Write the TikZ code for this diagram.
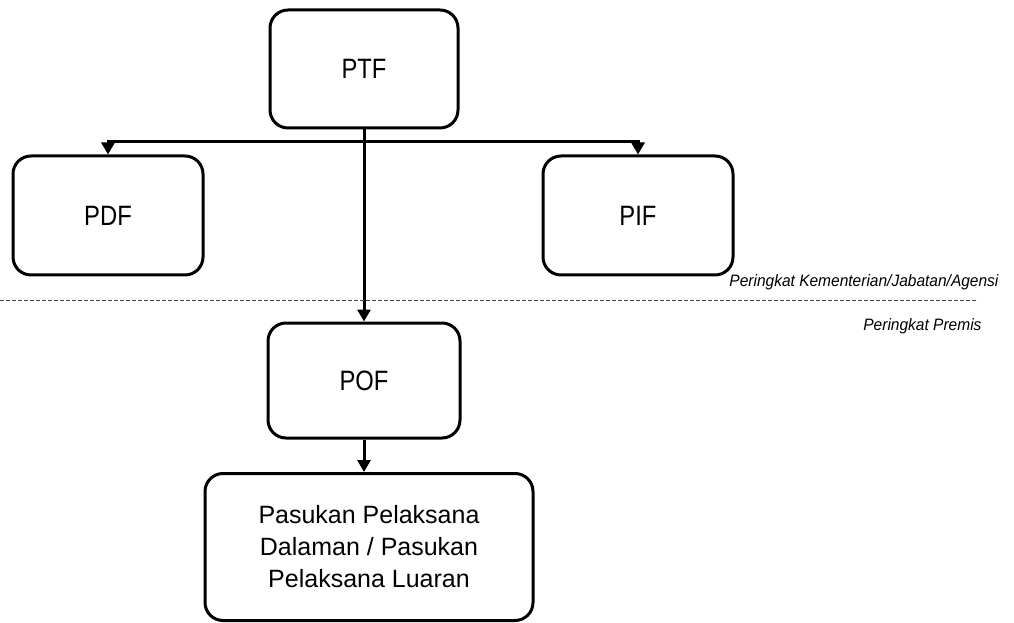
\documentclass[tikz,border=0pt]{standalone}
\usepackage{fontspec}
\setmainfont{Liberation Sans}
\newfontfamily\narrowsf[FakeStretch=0.85]{Liberation Sans}
\newfontfamily\levelsf[FakeStretch=0.94]{Liberation Sans}
\usetikzlibrary{arrows.meta,positioning}

\tikzset{
  unit/.style={draw, line width=3pt, rounded corners=18pt, align=center,
    font=\fontsize{25}{32}\selectfont},
  short/.style={font=\narrowsf\fontsize{28}{32}\selectfont},
  link/.style={line width=3pt, -{Triangle[width=13pt,length=12pt]}},
  level/.style={font=\levelsf\fontsize{16.5}{18}\itshape\selectfont, anchor=base east}
}

\begin{document}
\begin{tikzpicture}[x=1pt,y=1pt]
\useasboundingbox (0,0) rectangle (1014,622);

% the five bodies
\node[unit, short, minimum width=188pt, minimum height=118pt] (ptf) at (364,553) {PTF};
\node[unit, short, minimum width=190pt, minimum height=119pt] (pdf) at (108,406.5) {PDF};
\node[unit, short, minimum width=190pt, minimum height=119pt] (pif) at (638,406.5) {PIF};
\node[unit, short, minimum width=192pt, minimum height=115pt] (pof) at (364,241.5) {POF};
\node[unit, minimum width=328pt, minimum height=147pt] (pasukan) at (369,75)
  {Pasukan Pelaksana\\Dalaman / Pasukan\\Pelaksana Luaran};

% branches out of PTF
\coordinate (bus) at (364,480);
\draw[link] (bus) -| (pdf.north);
\draw[link] (bus) -| (pif.north);
\draw[link] (ptf.south) -- (pof.north);
\draw[link] (pof.south) -- (pof.south |- pasukan.north);

% divider between the two levels
\draw[dashed, dash pattern=on 4pt off 2pt, line width=1pt, black!75] (0,322) -- (978,322);
\node[level] (kementerian) at (1002,335) {Peringkat Kementerian/Jabatan/Agensi};
\node[level] (premis) at (985,292) {Peringkat Premis};

\end{tikzpicture}
\end{document}
